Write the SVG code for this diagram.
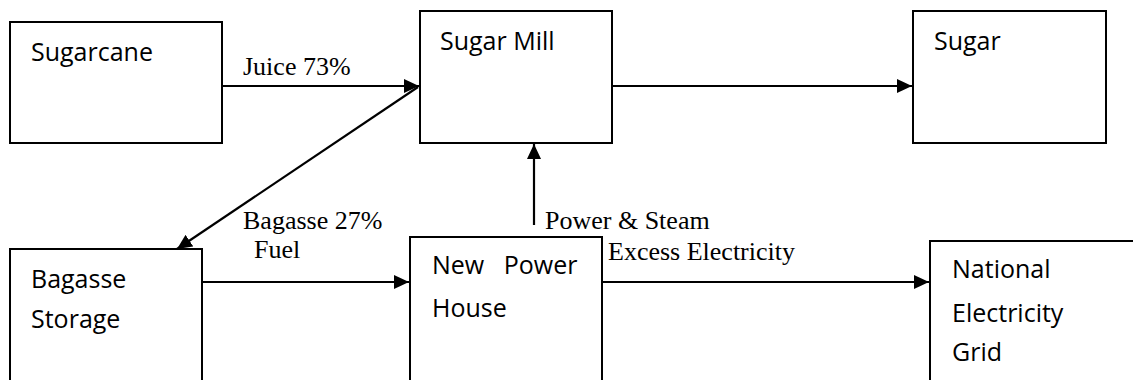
<svg xmlns="http://www.w3.org/2000/svg" width="1133" height="380" viewBox="0 0 1133 380">
<style>
.box{fill:#fff;stroke:#000;stroke-width:2}
.lbl{font-family:"Open Sans","Liberation Sans",sans-serif;font-size:25px;fill:#000;white-space:pre}
.edge{fill:none;stroke:#000;stroke-width:2.2}
.el{font-family:"Liberation Serif","Times New Roman",serif;font-size:26px;fill:#000}
</style>
<defs>
<marker id="ah" viewBox="0 0 15 14" refX="15" refY="7" markerWidth="15" markerHeight="14" markerUnits="userSpaceOnUse" orient="auto-start-reverse">
<path d="M0,0 L15,7 L0,14 z" fill="#000"/>
</marker>
</defs>
<rect width="1133" height="380" fill="#fff"/>
<g id="connectors">
<line class="edge" x1="222" y1="86" x2="419" y2="86" marker-end="url(#ah)"/>
<line class="edge" x1="612" y1="86" x2="912" y2="86" marker-end="url(#ah)"/>
<line class="edge" x1="418" y1="87" x2="177" y2="249" marker-end="url(#ah)"/>
<line class="edge" x1="534" y1="225" x2="534" y2="144" marker-end="url(#ah)"/>
<line class="edge" x1="202" y1="282" x2="409" y2="282" marker-end="url(#ah)"/>
<line class="edge" x1="602" y1="282" x2="929" y2="282" marker-end="url(#ah)"/>
<text class="el" x="243" y="75">Juice 73%</text>
<text class="el" x="243" y="229">Bagasse 27%</text>
<text class="el" x="254" y="258">Fuel</text>
<text class="el" x="545" y="229">Power &amp; Steam</text>
<text class="el" x="608" y="260">Excess Electricity</text>
</g>
<g id="sugarcane">
<rect class="box" x="10" y="22" width="212" height="121"/>
<text class="lbl" x="31" y="61">Sugarcane</text>
</g>
<g id="sugar-mill">
<rect class="box" x="420" y="11" width="192" height="132"/>
<text class="lbl" x="440" y="50">Sugar Mill</text>
</g>
<g id="sugar">
<rect class="box" x="913" y="11" width="193" height="132"/>
<text class="lbl" x="934" y="50">Sugar</text>
</g>
<g id="bagasse-storage">
<rect class="box" x="10" y="249" width="192" height="150"/>
<text class="lbl" x="31" y="288">Bagasse</text>
<text class="lbl" x="31" y="328">Storage</text>
</g>
<g id="new-power-house">
<rect class="box" x="410" y="237" width="192" height="160"/>
<text class="lbl" x="432" y="274">New   Power</text>
<text class="lbl" x="432" y="317">House</text>
</g>
<g id="national-grid">
<rect class="box" x="930" y="241" width="220" height="160"/>
<text class="lbl" x="952" y="278">National</text>
<text class="lbl" x="952" y="322">Electricity</text>
<text class="lbl" x="952" y="361">Grid</text>
</g>
</svg>
